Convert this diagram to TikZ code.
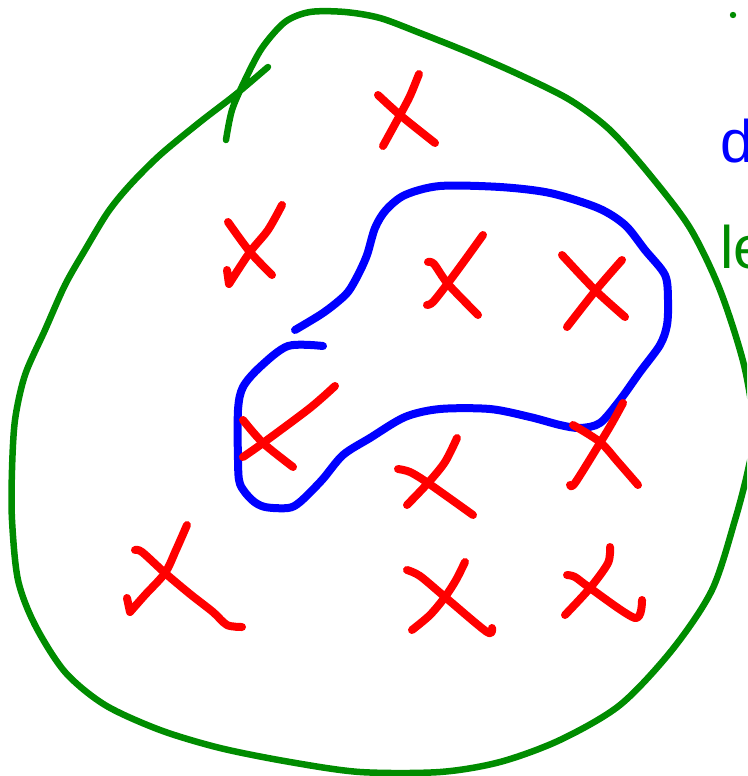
\documentclass[tikz,border=0pt]{standalone}
\usepackage{fontspec}
\setmainfont{Liberation Sans}
\definecolor{gruen}{HTML}{008C00}
\definecolor{blau}{HTML}{0000FF}
\definecolor{rot}{HTML}{FF0000}
\tikzset{
  rand/.style={gruen,line width=6.5pt,line cap=round,line join=round},
  teil/.style={blau,line width=8pt,line cap=round,line join=round},
  kreuz/.style={rot,line width=8pt,line cap=round,line join=round},
  wort/.style={inner sep=0pt,font=\fontsize{60}{60}\selectfont},
}
\begin{document}
\begin{tikzpicture}[x=1pt,y=-1pt]
  \useasboundingbox (0,0) rectangle (747,776);
  \clip (0,0) rectangle (747,776);
  % outer set
  \draw[rand] plot[smooth] coordinates {(226,140) (232,110) (245,80) (262,48) (285,22) (310,12) (345,12) (380,18) (420,33) (470,53) (520,75) (570,100) (610,130) (650,175) (690,228) (720,290) (744,365) (754,430) (748,470) (735,520) (712,590) (672,650) (620,705) (560,740) (500,762) (440,772) (360,772) (290,762) (220,748) (160,730) (105,705) (65,672) (35,625) (18,580) (12,520) (12,470) (15,420) (25,375) (45,330) (65,285) (85,250) (108,212) (130,185) (160,155) (200,122) (235,95) (268,67)};
  \fill[gruen] (733,15) circle (3.2pt);
  % inner set
  \draw[teil] plot[smooth] coordinates {(295,330) (320,315) (335,304) (348,292) (358,275) (367,255) (375,228) (386,210) (405,195) (440,186) (500,187) (550,193) (598,208) (625,225) (645,250) (665,275) (668,300) (667,325) (660,345) (640,372) (620,400) (600,423) (580,428) (560,425) (530,417) (490,409) (440,409) (405,417) (370,438) (343,455) (322,480) (300,502) (288,508) (265,507) (252,500) (240,484) (238,460) (238,410) (243,387) (260,367) (288,346) (323,346)};
  % crosses
  \draw[kreuz] plot[smooth] coordinates {(419,74) (410,96) (400,115) (383,146)};
  \draw[kreuz] plot[smooth] coordinates {(378,95) (400,115) (435,143)};
  \draw[kreuz] plot[smooth] coordinates {(282,205) (268,230) (250,252) (229,284)} -- (227,270);
  \draw[kreuz] plot[smooth] coordinates {(228,222) (250,252) (272,275)};
  \draw[kreuz] plot[smooth] coordinates {(483,235) (465,260) (448,283) (433,302) (427,305)};
  \draw[kreuz] plot[smooth] coordinates {(428,262) (434,264) (448,284) (478,315)};
  \draw[kreuz] plot[smooth] coordinates {(622,260) (596,290) (567,327)};
  \draw[kreuz] plot[smooth] coordinates {(562,255) (595,290) (625,317)};
  \draw[kreuz] plot[smooth] coordinates {(623,403) (612,423) (600,443) (575,483) (570,485)};
  \draw[kreuz] plot[smooth] coordinates {(573,425) (600,442) (618,462) (638,485)};
  \draw[kreuz] plot[smooth] coordinates {(457,438) (445,462) (428,483) (407,505)};
  \draw[kreuz] plot[smooth] coordinates {(398,469) (410,472) (428,483) (473,515)};
  \draw[kreuz] plot[smooth] coordinates {(187,525) (176,550) (165,573) (145,595) (130,612)} -- (127,598);
  \draw[kreuz] plot[smooth] coordinates {(135,550) (142,552) (165,573) (190,594) (213,612) (227,625) (242,627)};
  \draw[kreuz] plot[smooth] coordinates {(465,562) (456,580) (445,597) (430,615) (412,630)};
  \draw[kreuz] plot[smooth] coordinates {(407,570) (420,576) (445,597) (487,632) (492,628)};
  \draw[kreuz] plot[smooth] coordinates {(610,547) (608,563) (590,588) (565,615)};
  \draw[kreuz] plot[smooth] coordinates {(567,575) (575,577) (590,588) (635,618) (642,600)};
  \draw[kreuz] plot[smooth] coordinates {(335,386) (310,408) (263,443) (243,457)};
  \draw[kreuz] plot[smooth] coordinates {(243,420) (263,443) (293,467)};
  % labels
  \node[wort,blau,anchor=base west] (ld) at (720,162) {d};
  \node[wort,gruen,anchor=base west] (lle) at (720,268) {le};
\end{tikzpicture}
\end{document}
